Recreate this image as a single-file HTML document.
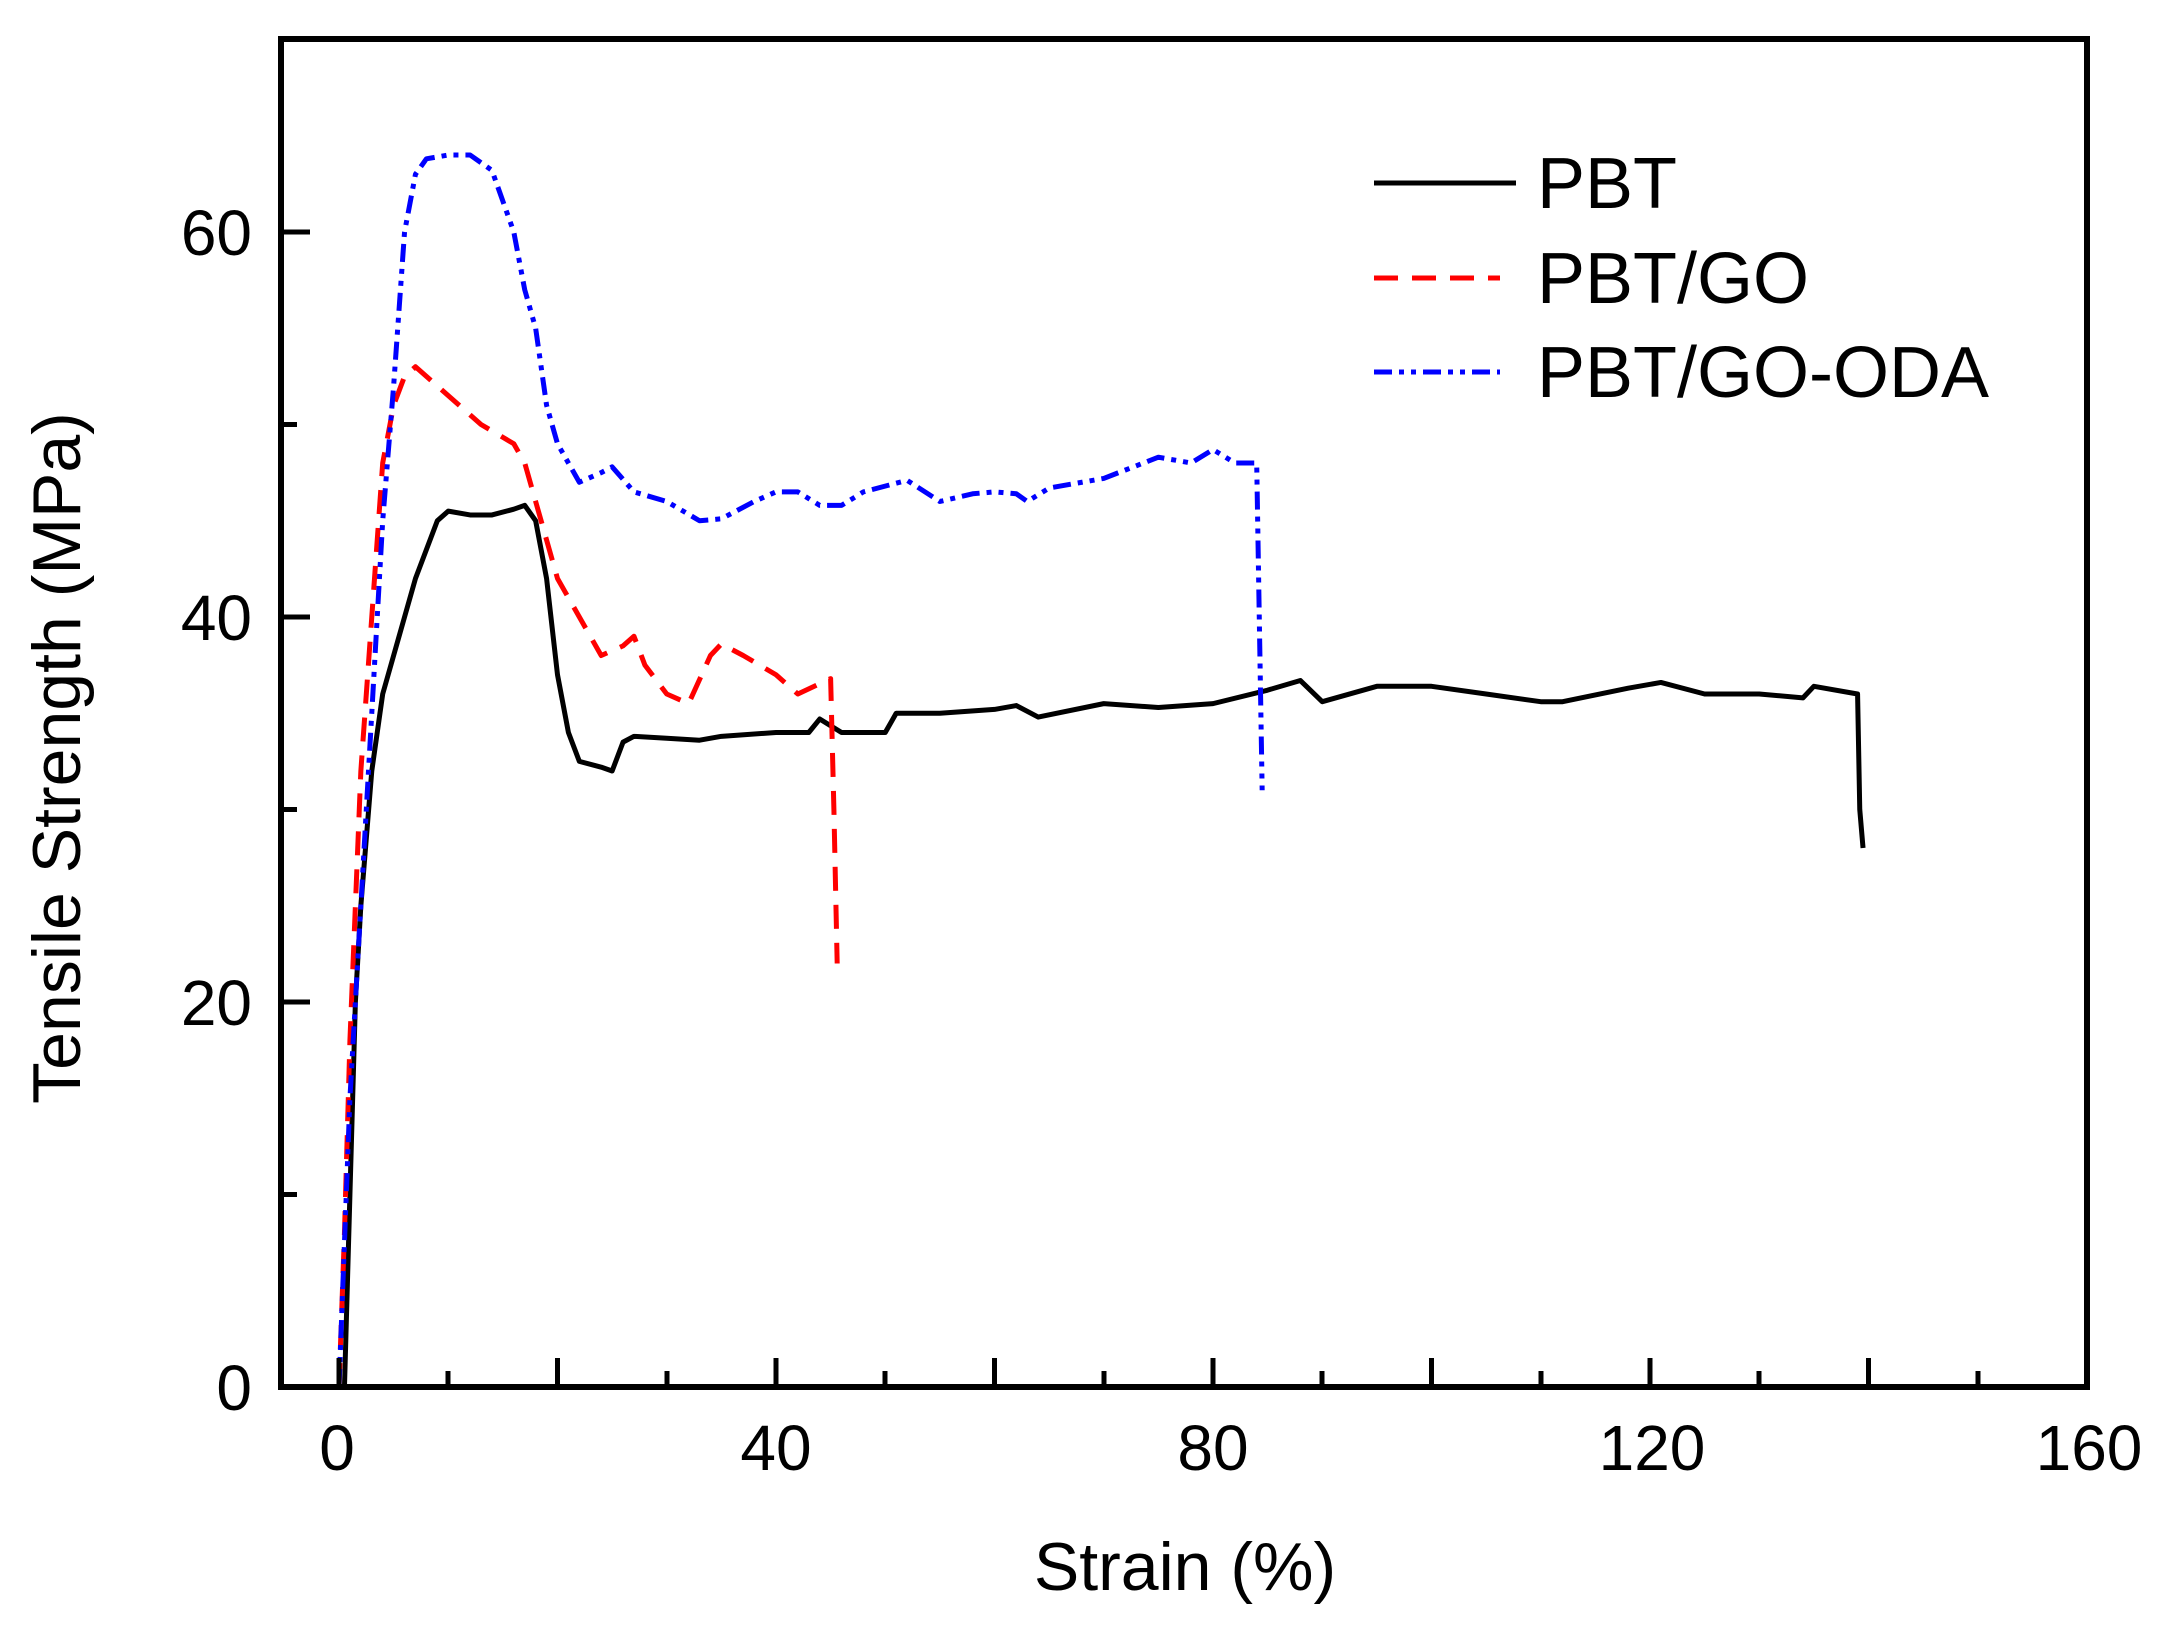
<!DOCTYPE html>
<html><head><meta charset="utf-8"><style>html,body{margin:0;padding:0;background:#fff}</style></head>
<body>
<svg width="2159" height="1629" viewBox="0 0 2159 1629" xmlns="http://www.w3.org/2000/svg" font-family="Liberation Sans, sans-serif">
<g transform="translate(339,1387) scale(10.925,-19.25)" fill="none" stroke-linejoin="round">
<polyline vector-effect="non-scaling-stroke" stroke="#000" stroke-width="5" points="0,0 0.5,0 1,10 1.5,20 2,25 3,32 4,36 5,38 6,40 7,42 8,43.5 9,45 10,45.5 12,45.3 14,45.3 16,45.6 17,45.8 18,45 19,42 20,37 21,34 22,32.5 24,32.2 25,32 26,33.5 27,33.8 30,33.7 33,33.6 35,33.8 40,34 43,34 44,34.7 46,34 50,34 51,35 55,35 60,35.2 62,35.4 64,34.8 70,35.5 75,35.3 80,35.5 85,36.2 88,36.7 90,35.6 95,36.4 100,36.4 105,36 110,35.6 112,35.6 118,36.3 121,36.6 125,36 130,36 134,35.8 135,36.4 139,36 139.2,30 139.5,28"/>
<polyline vector-effect="non-scaling-stroke" stroke="#f00" stroke-width="5" stroke-dasharray="24 14" points="0,0 0.5,8 1,18 1.5,25 2,32 3,40 4,48 5,51 6,52.5 7,53 8,52.5 10,51.5 13,50 16,49 17,48 18,46 20,42 22,40 24,38 26,38.5 27,39 28,37.5 30,36 32,35.5 34,38 35,38.6 37,38 40,37 42,36 45,36.8 45.3,30 45.6,22"/>
<polyline vector-effect="non-scaling-stroke" stroke="#00f" stroke-width="5" stroke-dasharray="18 7 5 7 5 7" points="0,0 1,15 2,25 3,35 4,45 5,52 6,60 7,63 8,63.8 10,64 12,64 14,63.2 16,60 17,57 18,55 19,51 20,49 22,47 24,47.5 25,47.8 27,46.5 30,46 33,45 35,45.1 38,46 40,46.5 42,46.5 44,45.8 46,45.8 48,46.5 52,47.1 55,46 58,46.4 60,46.5 62,46.4 63,46 65,46.7 70,47.2 75,48.3 78,48 80,48.7 82,48 84,48 84.5,31"/>
</g>
<rect x="281" y="39" width="1806" height="1348" fill="none" stroke="#000" stroke-width="6"/>
<g stroke="#000" stroke-width="5">
<path d="M339,1387v-29 M557.5,1387v-29 M776,1387v-29 M994.5,1387v-29 M1213,1387v-29 M1431.5,1387v-29 M1650,1387v-29 M1868.5,1387v-29 M448,1387v-16 M667,1387v-16 M885,1387v-16 M1104,1387v-16 M1322,1387v-16 M1541,1387v-16 M1759,1387v-16 M1978,1387v-16"/>
<path d="M281,1387h29 M281,1002h29 M281,617h29 M281,232h29 M281,1194.5h16 M281,809.5h16 M281,424.5h16"/>
</g>
<g font-size="64" fill="#000">
<g text-anchor="middle">
<text x="337" y="1470">0</text><text x="776" y="1470">40</text><text x="1213" y="1470">80</text><text x="1652" y="1470">120</text><text x="2089" y="1470">160</text>
</g>
<g text-anchor="end">
<text x="252" y="1410">0</text><text x="252" y="1025">20</text><text x="252" y="640">40</text><text x="252" y="255">60</text>
</g>
</g>
<text x="1185" y="1590" font-size="68" text-anchor="middle">Strain (%)</text>
<text transform="translate(80,758) rotate(-90)" font-size="68" text-anchor="middle">Tensile Strength (MPa)</text>
<g stroke-width="5">
<line x1="1374" y1="183" x2="1516" y2="183" stroke="#000"/>
<line x1="1374" y1="278" x2="1500" y2="278" stroke="#f00" stroke-dasharray="24 14"/>
<line x1="1374" y1="372" x2="1500" y2="372" stroke="#00f" stroke-dasharray="18 7 5 7 5 7"/>
</g>
<g font-size="72" fill="#000">
<text x="1537" y="208">PBT</text><text x="1537" y="303">PBT/GO</text><text x="1537" y="397">PBT/GO-ODA</text>
</g>
</svg>
</body></html>
